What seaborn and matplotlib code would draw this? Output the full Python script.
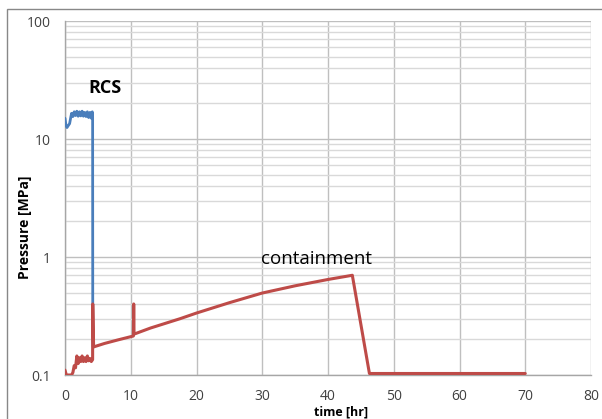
import matplotlib
matplotlib.use("Agg")
import matplotlib.pyplot as plt
import matplotlib.ticker as mticker
from matplotlib.patches import Rectangle
import seaborn as sns
import pandas as pd

# RCS pressure (blue)
rcs_t = [0.0, 0.15, 0.3, 0.5, 0.7, 0.9, 1.0, 1.2, 1.4, 1.6, 1.8, 2.0, 2.2, 2.4, 2.6,
         2.8, 3.0, 3.2, 3.4, 3.6, 3.8, 4.0, 4.15, 4.2, 4.22, 4.25]
rcs_p = [15.0, 13.0, 12.5, 13.0, 13.5, 15.5, 16.5, 15.5, 17.0, 15.8, 17.2, 15.6, 17.0,
         15.7, 17.2, 15.6, 16.8, 15.5, 17.0, 15.2, 16.8, 15.0, 17.0, 16.5, 0.4, 0.175]

# Containment pressure (red)
cnt_t = [0.0, 0.2, 0.5, 1.0, 1.2, 1.4, 1.6, 1.8, 2.0, 2.2, 2.4, 2.6, 2.8, 3.0, 3.2,
         3.4, 3.6, 3.8, 4.0, 4.2, 4.22, 4.35, 6.0, 8.0, 10.4, 10.45, 10.5,
         13.0, 17.5, 20.0, 25.0, 30.0, 35.0, 40.0, 43.7, 46.3, 50.0, 60.0, 70.0]
cnt_p = [0.11, 0.10, 0.10, 0.10, 0.105, 0.12, 0.115, 0.145, 0.125, 0.14, 0.13, 0.145,
         0.13, 0.14, 0.13, 0.145, 0.132, 0.138, 0.13, 0.135, 0.40, 0.173, 0.185, 0.198,
         0.214, 0.40, 0.222, 0.25, 0.30, 0.335, 0.41, 0.495, 0.57, 0.645, 0.70,
         0.103, 0.103, 0.103, 0.103]

x_ticks = [0, 10, 20, 30, 40, 50, 60, 70, 80]
y_ticks = [0.1, 1, 10, 100]
y_tick_labels = ["0.1", "1", "10", "100"]

sns.set_style("white")
plt.rcParams["font.family"] = ["Open Sans", "DejaVu Sans"]

W, H = 602, 419
fig = plt.figure(figsize=(W / 100, H / 100), dpi=100)
ax = fig.add_axes([65 / W, 1 - 375 / H, (591 - 65) / W, (375 - 21) / H])

# outer chart-area frame
fig.patches.append(Rectangle((7 / W, -0.1), 1.2, 1 - 9 / H + 0.1, transform=fig.transFigure,
                             fill=False, edgecolor="#888888", linewidth=1.0, zorder=0))

df_rcs = pd.DataFrame({"t": rcs_t, "p": rcs_p})
df_cnt = pd.DataFrame({"t": cnt_t, "p": cnt_p})
sns.lineplot(data=df_rcs, x="t", y="p", sort=False, estimator=None, ax=ax,
             color="#4A7EBB", linewidth=2.0, zorder=3)
sns.lineplot(data=df_cnt, x="t", y="p", sort=False, estimator=None, ax=ax,
             color="#BE4B48", linewidth=2.2, zorder=4)

ax.set_yscale("log")
ax.set_xlim(0, 80)
ax.set_ylim(0.1, 100)
ax.set_xticks(x_ticks)
ax.set_xticklabels([str(v) for v in x_ticks])
ax.set_yticks(y_ticks)
ax.set_yticklabels(y_tick_labels)
ax.yaxis.set_minor_locator(mticker.LogLocator(base=10, subs=range(2, 10)))
ax.yaxis.set_minor_formatter(mticker.NullFormatter())

ax.grid(which="major", axis="both", color="#BFBFBF", linewidth=1.0)
ax.grid(which="minor", axis="y", color="#D9D9D9", linewidth=1.0)
ax.set_axisbelow(True)

for s in ["top", "right"]:
    ax.spines[s].set_visible(False)
for s in ["left", "bottom"]:
    ax.spines[s].set_color("#A6A6A6")
    ax.spines[s].set_linewidth(1.0)

ax.tick_params(axis="both", which="major", direction="out", length=6, width=1,
               color="#A6A6A6", labelsize=10, labelcolor="#404040", pad=4)
ax.tick_params(axis="y", which="minor", length=0)

ax.set_xlabel("time [hr]", fontsize=9, fontweight="bold", color="#000000")
ax.xaxis.set_label_coords((341 - 65) / (591 - 65), -0.085)
ax.set_ylabel("Pressure [MPa]", fontsize=10, fontweight="bold", color="#000000")
ax.yaxis.set_label_coords((32 - 65) / (591 - 65), 1 - (227 - 21) / 354)

ax.text(6.1, 27, "RCS", fontsize=13, fontweight="bold", ha="center", va="center",
        color="#000000")
ax.text(38.3, 0.97, "containment", fontsize=13.5, ha="center", va="center", color="#000000")

fig.savefig("out.png", dpi=100)
